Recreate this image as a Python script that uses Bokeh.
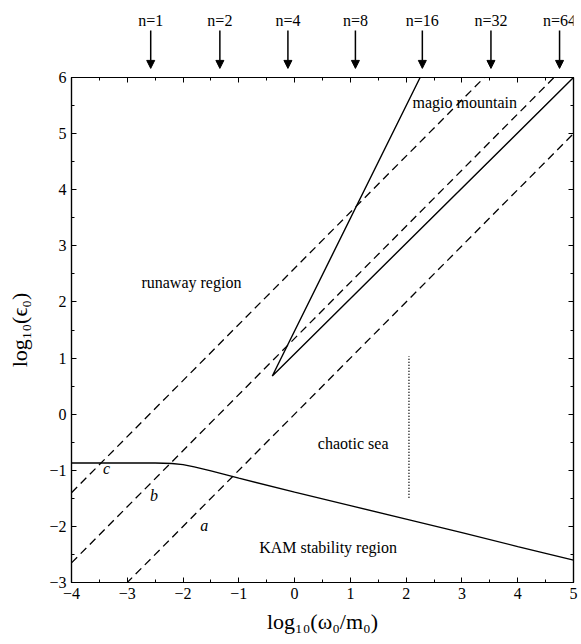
import numpy as np
from bokeh.plotting import figure
from bokeh.models import Range1d, LinearAxis, ColumnDataSource, Arrow, NormalHead, FixedTicker
from bokeh.layouts import column
from bokeh.core.properties import value
from bokeh.embed import file_html
from bokeh.resources import INLINE

# ---------------- data ----------------
x_ticks = [-4, -3, -2, -1, 0, 1, 2, 3, 4, 5]
y_ticks = [-3, -2, -1, 0, 1, 2, 3, 4, 5, 6]

# KAM stability boundary (solid curve)
kam_x = [-4.0, -3.0, -2.5, -2.2, -2.0, -1.8, -1.5, -1.0, 0.0, 1.0, 2.0, 3.0, 4.0, 5.0]
kam_y = [-0.87, -0.87, -0.87, -0.88, -0.90, -0.94, -1.01, -1.14, -1.39, -1.63, -1.87, -2.11, -2.36, -2.60]

# dashed lines y = x + offset, labelled a, b, c
dash_names = ["a", "b", "c"]
dash_offsets = [0.0, 1.35, 2.6]

# "magic mountain" wedge (solid)
mm_x = [2.25, -0.4, 5.0]
mm_y = [6.0, 0.68, 6.0]

# dotted vertical line in the chaotic sea
dot_x = [2.05, 2.05]
dot_y = [-1.49, 1.03]

# n markers above the plot
n_labels = ["n=1", "n=2", "n=4", "n=8", "n=16", "n=32", "n=64"]
n_x = [-2.58, -1.34, -0.12, 1.09, 2.29, 3.52, 4.75]

# region labels
region_text = ["runaway region", "magio mountain", "chaotic sea", "KAM stability region"]
region_x = [-1.85, 3.05, 1.05, 0.6]
region_y = [2.35, 5.55, -0.53, -2.38]

letter_text = ["a", "b", "c"]
letter_x = [-1.62, -2.52, -3.37]
letter_y = [-1.99, -1.45, -0.97]

FONT = "Liberation Serif"

# ---------------- main figure ----------------
xr = Range1d(-4, 5)
yr = Range1d(-3, 6)
p = figure(width=581, height=574, x_range=xr, y_range=yr,
           output_backend="svg", toolbar_location=None,
           min_border_left=71, min_border_right=8, min_border_top=7, min_border_bottom=62)
p.xgrid.grid_line_color = None
p.ygrid.grid_line_color = None
p.outline_line_color = "black"
p.outline_line_width = 1.2
p.background_fill_color = "white"
p.border_fill_color = "white"

minor_x = list(np.arange(-4, 5.01, 0.5))
minor_y = list(np.arange(-3, 6.01, 0.5))
p.xaxis.ticker = FixedTicker(ticks=x_ticks, minor_ticks=minor_x)
p.yaxis.ticker = FixedTicker(ticks=y_ticks, minor_ticks=minor_y)
p.xaxis.axis_label = "log₁₀(ω₀/m₀)"
p.yaxis.axis_label = "log₁₀(ϵ₀)"

def style_axis(ax, ticks, labels=True, standoff=8):
    ax.axis_line_color = "black"
    ax.axis_line_width = 1.2
    ax.major_tick_in = 5
    ax.major_tick_out = 0
    ax.minor_tick_in = 3
    ax.minor_tick_out = 0
    ax.major_tick_line_color = "black"
    ax.minor_tick_line_color = "black"
    ax.major_label_text_font = FONT
    ax.major_label_text_color = "black"
    if labels:
        ax.major_label_text_font_size = "16px"
        ax.major_label_standoff = 5
        ax.axis_label_text_font = FONT
        ax.axis_label_text_font_size = "22px"
        ax.axis_label_text_font_style = "normal"
        ax.axis_label_text_color = "black"
        ax.axis_label_standoff = standoff
    else:
        ax.major_label_overrides = {t: "" for t in ticks}
        ax.major_label_text_font_size = "1px"
        ax.major_label_standoff = 0

for ax in p.xaxis:
    style_axis(ax, x_ticks, standoff=7)
for ax in p.yaxis:
    style_axis(ax, y_ticks, standoff=14)

top_ax = LinearAxis(ticker=FixedTicker(ticks=x_ticks, minor_ticks=minor_x))
style_axis(top_ax, x_ticks, labels=False)
p.add_layout(top_ax, "above")
right_ax = LinearAxis(ticker=FixedTicker(ticks=y_ticks, minor_ticks=minor_y))
style_axis(right_ax, y_ticks, labels=False)
p.add_layout(right_ax, "right")

# dashed lines
for off in dash_offsets:
    xs = [-4.0, 5.0]
    ys = [x + off for x in xs]
    p.line(xs, ys, line_color="black", line_width=1.3, line_dash="8 5")

# KAM curve
p.line(kam_x, kam_y, line_color="black", line_width=1.4)
# magic mountain wedge
p.line(mm_x, mm_y, line_color="black", line_width=1.4)
# dotted vertical
p.line(dot_x, dot_y, line_color="black", line_width=1.5, line_dash="1 2")

# labels
p.text(x=region_x, y=region_y, text=region_text, text_font=value(FONT),
       text_font_size="16px", text_align="center", text_baseline="middle", text_color="black")
p.text(x=letter_x, y=letter_y, text=letter_text, text_font=value(FONT),
       text_font_size="16px", text_font_style="italic", text_align="center",
       text_baseline="middle", text_color="black")

# ---------------- top strip with n markers ----------------
top = figure(width=581, height=70, x_range=xr, y_range=Range1d(0, 1),
             output_backend="svg", toolbar_location=None,
             x_axis_type=None, y_axis_type=None,
             min_border_left=71, min_border_right=8, min_border_top=0, min_border_bottom=0)
top.outline_line_color = None
top.background_fill_color = "white"
top.border_fill_color = "white"

src = ColumnDataSource(dict(x=n_x, y0=[0.57] * len(n_x), y1=[0.03] * len(n_x),
                            ty=[0.6] * len(n_x), t=n_labels))
top.add_layout(Arrow(end=NormalHead(size=8, fill_color="black", line_color="black"),
                     x_start="x", y_start="y0", x_end="x", y_end="y1",
                     source=src, line_width=1.5, line_color="black"))
top.text(x="x", y="ty", text="t", source=src, text_font=value(FONT),
         text_font_size="16px", text_align="center", text_baseline="bottom", text_color="black")

layout = column(top, p)
open("out.html", "w").write(file_html(layout, INLINE))
